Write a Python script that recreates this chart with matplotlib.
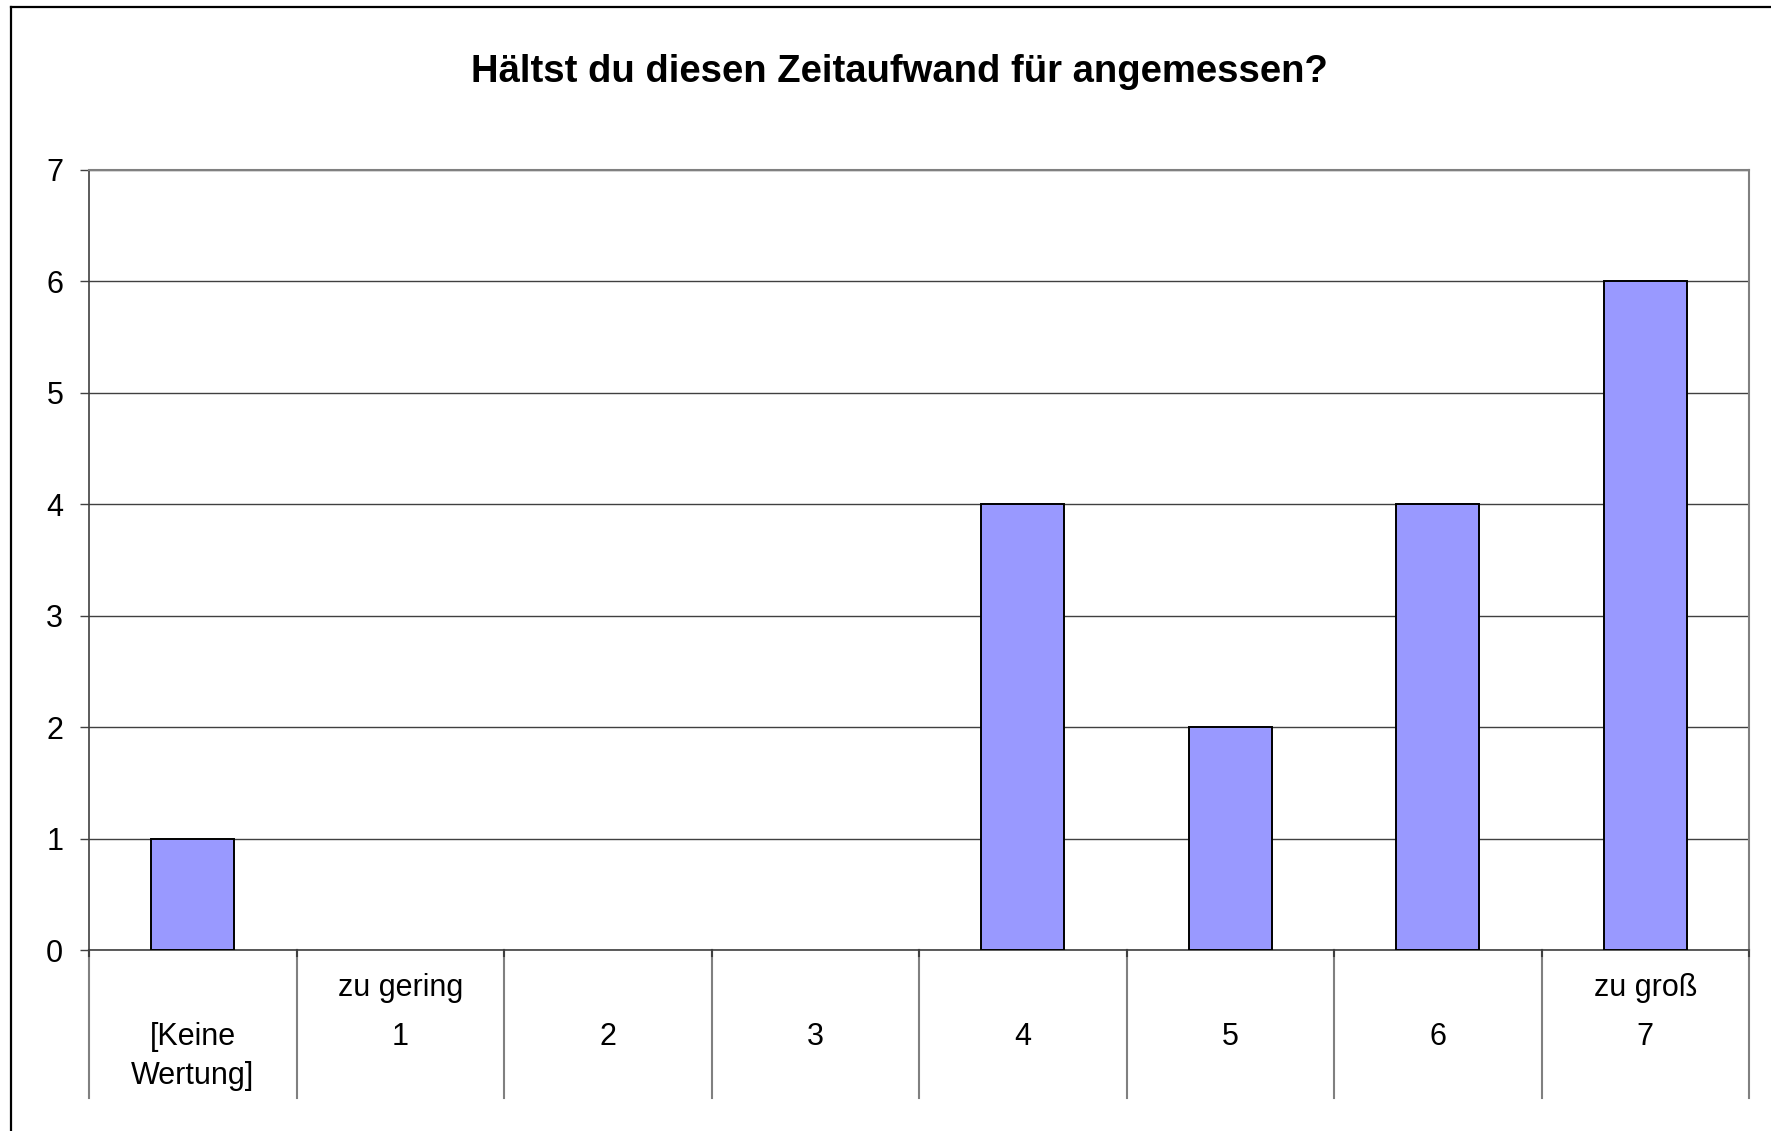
import matplotlib
matplotlib.use("Agg")
import matplotlib.pyplot as plt
from matplotlib.lines import Line2D
import matplotlib.transforms as mtransforms

plt.rcParams['font.family'] = ['Liberation Sans', 'DejaVu Sans']

title = "Hältst du diesen Zeitaufwand für angemessen?"
cat_upper = ["", "zu gering", "", "", "", "", "", "zu groß"]
cat_main = ["[Keine\nWertung]", "1", "2", "3", "4", "5", "6", "7"]
values = [1, 0, 0, 0, 4, 2, 4, 6]
yticks = [0, 1, 2, 3, 4, 5, 6, 7]

W, H = 1771, 1131
fig = plt.figure(figsize=(W / 100, H / 100), dpi=100)
fig.patch.set_facecolor("white")

# outer chart border (left and top visible)
fig.add_artist(Line2D([11 / W, 11 / W], [0, 1 - 6.5 / H], transform=fig.transFigure,
                      color="black", lw=1.6))
fig.add_artist(Line2D([11 / W, 1.0], [1 - 6.5 / H, 1 - 6.5 / H], transform=fig.transFigure,
                      color="black", lw=1.6))

left, right, top, bottom = 89, 1749, 170, 950
ax = fig.add_axes([left / W, 1 - bottom / H, (right - left) / W, (bottom - top) / H])

n = len(values)
x = list(range(n))
bar_vals = [v if v > 0 else float("nan") for v in values]
ax.bar(x, bar_vals, width=0.4, color="#9999FF", edgecolor="black", linewidth=1.4, zorder=3)

ax.set_xlim(-0.5, n - 0.5)
ax.set_ylim(0, 7)
ax.set_yticks(yticks)
ax.set_yticklabels([str(v) for v in yticks])
ax.yaxis.grid(True, color="#404040", linewidth=1.0, zorder=1)
ax.set_axisbelow(True)
ax.tick_params(axis="y", length=6.5, width=1.0, color="#404040", pad=12, labelsize=22)
ax.set_xticks([])

for s in ["top", "right"]:
    ax.spines[s].set_color("#808080")
    ax.spines[s].set_linewidth(1.5)
ax.spines["left"].set_color("#404040")
ax.spines["left"].set_linewidth(1.2)
ax.spines["bottom"].set_color("#404040")
ax.spines["bottom"].set_linewidth(1.2)

# category separators below the axis
sep_frac = -(1098 - bottom) / (bottom - top)
trans = mtransforms.blended_transform_factory(ax.transData, ax.transAxes)
for b in [i - 0.5 for i in range(n + 1)]:
    ax.add_line(Line2D([b, b], [0, sep_frac], transform=trans, color="#808080",
                       lw=1.5, clip_on=False))
    ax.add_line(Line2D([b, b], [0, -6 / (bottom - top)], transform=trans, color="#404040",
                       lw=1.5, clip_on=False))

# category labels
tl = mtransforms.blended_transform_factory(ax.transData, fig.transFigure)
row1, row2, gap = 988, 1037, 39
for i in range(n):
    if cat_upper[i]:
        ax.text(i, 1 - row1 / H, cat_upper[i], transform=tl, ha="center", va="center",
                fontsize=22, clip_on=False)
    for j, line in enumerate(cat_main[i].split("\n")):
        ax.text(i, 1 - (row2 + j * gap) / H, line, transform=tl, ha="center", va="center",
                fontsize=22, clip_on=False)

fig.text(899 / W, 1 - 72 / H, title, ha="center", va="center", fontsize=27.5,
         fontweight="bold")

fig.savefig("out.png", dpi=100, facecolor="white")
